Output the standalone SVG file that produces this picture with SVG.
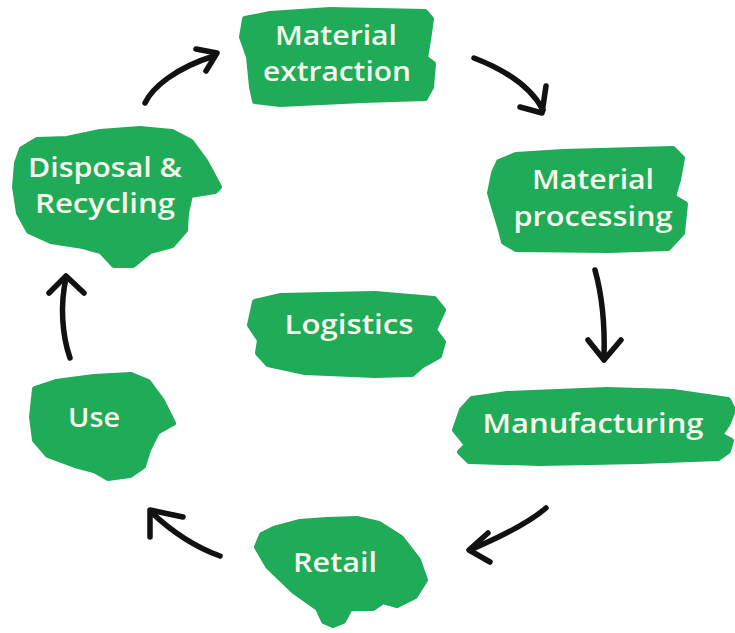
<svg xmlns="http://www.w3.org/2000/svg" width="735" height="633" viewBox="0 0 735 633">
<style>
.blob{fill:#1fab57;stroke:#1fab57;stroke-width:6;stroke-linejoin:round}
.lbl{font-family:"Open Sans","Liberation Sans",sans-serif;font-weight:600;font-size:27px;fill:#f6f9ec}
.arr{fill:none;stroke:#111;stroke-width:5.5;stroke-linecap:round;stroke-linejoin:round}
</style>
<rect width="735" height="633" fill="#ffffff"/>
<g id="connectors">
<path class="arr" d="M145,103 C152,88 175,68 214,56"/>
<path class="arr" d="M196,49 L217,53 L206,71"/>
<path class="arr" d="M474,58 C500,68 530,85 543,110"/>
<path class="arr" d="M520,107 L542,113 L546,86"/>
<path class="arr" d="M595,270 C602,295 605,325 604,357"/>
<path class="arr" d="M588,340 L604,360 L621,340"/>
<path class="arr" d="M546,508 C530,522 505,535 470,550"/>
<path class="arr" d="M488,533 L469,550 L490,562"/>
<path class="arr" d="M220,556 C195,547 170,530 151,512"/>
<path class="arr" d="M150,537 L150,510 L183,517"/>
<path class="arr" d="M70,358 C62,335 60,305 66,278"/>
<path class="arr" d="M49,293 L66,276 L84,293"/>
</g>
<g id="material-extraction">
<path class="blob" d="M245,19 L270,14 L330,10 L425,12 L431,19 L428,40 L425,58 L433,64 L431,87 L425,98 L363,100 L280,104 L255,101 L252,87 L249,57 L242,37 Z"/>
<text class="lbl" x="336" y="45" text-anchor="middle" textLength="122" lengthAdjust="spacingAndGlyphs">Material</text>
<text class="lbl" x="337" y="81" text-anchor="middle" textLength="148" lengthAdjust="spacingAndGlyphs">extraction</text>
</g>
<g id="material-processing">
<path class="blob" d="M499,162 L516,155 L563,152 L673,149 L682,158 L678,180 L673,197 L685,204 L682,233 L668,248 L609,250 L516,249 L504,242 L501,230 L494,207 L490,193 L494,173 Z"/>
<text class="lbl" x="593" y="189" text-anchor="middle" textLength="122" lengthAdjust="spacingAndGlyphs">Material</text>
<text class="lbl" x="593" y="226" text-anchor="middle" textLength="159" lengthAdjust="spacingAndGlyphs">processing</text>
</g>
<g id="manufacturing">
<path class="blob" d="M472,399 L507,394 L607,390 L673,392 L728,400 L733,410 L728,423 L720,435 L731,441 L728,451 L718,458 L640,461 L540,463 L469,461 L460,452 L467,445 L455,430 L462,410 Z"/>
<text class="lbl" x="593" y="433" text-anchor="middle" textLength="221" lengthAdjust="spacingAndGlyphs">Manufacturing</text>
</g>
<g id="retail">
<path class="blob" d="M262,535 L274,529 L300,522 L327,520 L357,519 L379,524 L401,538 L418,560 L425,580 L415,596 L397,605 L383,601 L373,608 L350,608 L343,621 L333,625 L324,621 L318,608 L294,591 L268,566 L257,547 Z"/>
<text class="lbl" x="335" y="572" text-anchor="middle" textLength="84" lengthAdjust="spacingAndGlyphs">Retail</text>
</g>
<g id="use">
<path class="blob" d="M35,389 L56,382 L94,377 L131,375 L148,382 L162,401 L173,423 L157,432 L148,450 L143,466 L130,475 L108,478 L94,470 L75,465 L48,455 L35,440 L32,417 Z"/>
<text class="lbl" x="94" y="427" text-anchor="middle" textLength="52" lengthAdjust="spacingAndGlyphs">Use</text>
</g>
<g id="disposal-recycling">
<path class="blob" d="M22,149 L37,140 L67,139 L100,132 L140,129 L172,132 L191,142 L205,161 L219,187 L215,191 L190,195 L186,213 L185,230 L172,245 L150,251 L133,265 L114,265 L101,251 L83,246 L51,241 L29,231 L19,213 L15,187 L17,163 Z"/>
<text class="lbl" x="105" y="177" text-anchor="middle" textLength="154" lengthAdjust="spacingAndGlyphs">Disposal &amp;</text>
<text class="lbl" x="105" y="213" text-anchor="middle" textLength="140" lengthAdjust="spacingAndGlyphs">Recycling</text>
</g>
<g id="logistics">
<path class="blob" d="M255,302 L281,296 L375,294 L434,299 L443,310 L434,330 L443,342 L439,356 L421,366 L412,374 L375,375 L305,372 L268,364 L258,353 L260,340 L250,325 Z"/>
<text class="lbl" x="349" y="334" text-anchor="middle" textLength="129" lengthAdjust="spacingAndGlyphs">Logistics</text>
</g>
</svg>
